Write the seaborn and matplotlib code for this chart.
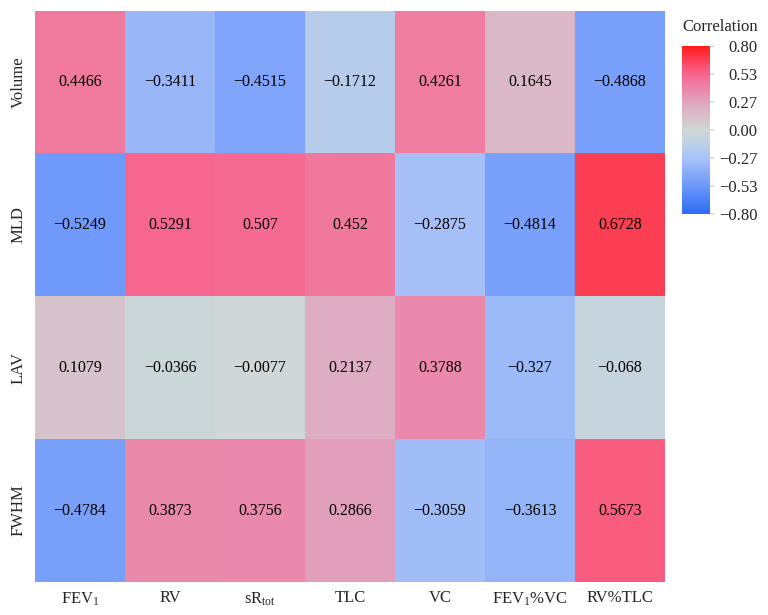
import numpy as np
import pandas as pd
import matplotlib
matplotlib.use("Agg")
import matplotlib.pyplot as plt
import seaborn as sns
from matplotlib.colors import LinearSegmentedColormap

rows = ["Volume", "MLD", "LAV", "FWHM"]
cols = ["FEV$_1$", "RV", "sR$_{\\rm tot}$", "TLC", "VC", "FEV$_1$%VC", "RV%TLC"]
volume = [0.4466, -0.3411, -0.4515, -0.1712, 0.4261, 0.1645, -0.4868]
mld = [-0.5249, 0.5291, 0.507, 0.452, -0.2875, -0.4814, 0.6728]
lav = [0.1079, -0.0366, -0.0077, 0.2137, 0.3788, -0.327, -0.068]
fwhm = [-0.4784, 0.3873, 0.3756, 0.2866, -0.3059, -0.3613, 0.5673]
cbar_ticks = [-0.8, -0.53, -0.27, 0.0, 0.27, 0.53, 0.8]

sns.set_theme(style="white")
plt.rcParams["font.family"] = ["Liberation Serif", "DejaVu Serif"]
plt.rcParams["mathtext.fontset"] = "custom"
plt.rcParams["mathtext.rm"] = "Liberation Serif"
plt.rcParams["mathtext.it"] = "Liberation Serif:italic"
plt.rcParams["mathtext.default"] = "rm"

df = pd.DataFrame([volume, mld, lav, fwhm], index=rows, columns=cols)
annot = df.map(lambda v: str(v).replace("-", "\u2212"))

cmap = LinearSegmentedColormap.from_list(
    "corr",
    [(0.0, "#2e6cf5"), (0.169, "#6e98fa"), (0.331, "#a9c3f7"), (0.5, "#d0d9d5"),
     (0.669, "#e0a3bf"), (0.831, "#f7668f"), (1.0, "#ff1c1c")])

fig = plt.figure(figsize=(7.68, 6.15), dpi=100)
ax = fig.add_axes([0.0456, 0.0537, 0.8203, 0.929])
cax = fig.add_axes([0.888, 0.652, 0.0365, 0.273])

sns.heatmap(df, ax=ax, cbar_ax=cax, cmap=cmap, vmin=-0.8, vmax=0.8,
            annot=annot, fmt="", annot_kws={"color": "black", "fontsize": 11.5})

ax.tick_params(axis="both", length=0, labelsize=12, pad=6)
ax.set_yticklabels(rows, rotation=90, va="center")
ax.set_xticklabels(cols, rotation=0)
ax.set_xlabel("")
ax.set_ylabel("")

cax.set_yticks(cbar_ticks)
cax.set_yticklabels([f"{t:.2f}".replace("-", "\u2212") for t in cbar_ticks], ha="right")
cax.tick_params(axis="y", length=3, color="#dddddd", labelsize=12, pad=31, right=True)
cax.set_title("Correlation", fontsize=12, pad=11, loc="left", x=0.0)

fig.savefig("out.png", dpi=100)
